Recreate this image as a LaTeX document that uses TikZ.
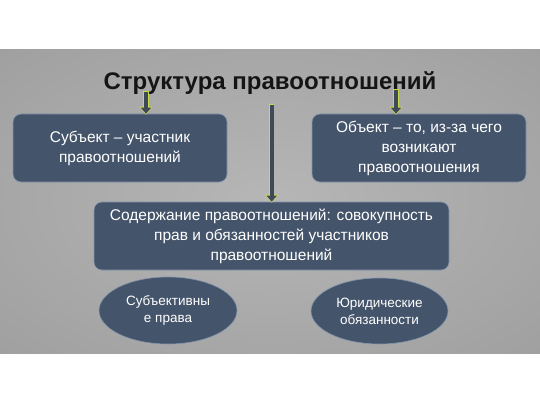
\documentclass[tikz,border=0pt]{standalone}
\usepackage{fontspec}
\setmainfont{Liberation Sans}
\usetikzlibrary{shapes.geometric,arrows.meta,positioning}

\definecolor{slate}{HTML}{44546A}
\definecolor{slateedge}{HTML}{8395AD}
\definecolor{arrdark}{HTML}{3E4B57}
\definecolor{arrlime}{HTML}{C9D94E}
\definecolor{titlecol}{HTML}{151515}
\definecolor{bglight}{HTML}{B6B6B6}
\definecolor{bgmid}{HTML}{9A9A9A}
\definecolor{bgdark}{HTML}{6A6A6A}
\pgfdeclareradialshading{bgshade}{\pgfpoint{0bp}{0bp}}{color(0bp)=(bglight); color(45bp)=(bgmid); color(72bp)=(bgdark)}

\begin{document}
\begin{tikzpicture}[x=1pt,y=1pt]
		\tikzstyle{box}=[rectangle, rounded corners=8pt, fill=slate, draw=slateedge, line width=0.6pt, text=white, align=center, font=\fontsize{15.5}{20}\selectfont, minimum height=68pt, inner sep=0pt]
		\tikzstyle{oval}=[ellipse, fill=slate, draw=slateedge, line width=0.6pt, text=white, align=center, font=\fontsize{13.5}{17}\selectfont, inner sep=0pt]
		\tikzstyle{blockarr}=[draw=arrdark, line width=4pt, -{Triangle[length=6pt,width=10pt]}, preaction={draw=arrlime, line width=5.4pt, -{Triangle[length=8pt,width=12.5pt]}, shorten >=-1pt, shorten <=-0.7pt}]
		\useasboundingbox (0,0) rectangle (540,405);
		\shade[shading=bgshade] (0,52) rectangle (540,355);
		
		\node[font=\fontsize{24}{28}\bfseries\selectfont, text=titlecol, anchor=base] (t) at (270,315) {Структура правоотношений};
		
		\node[box, minimum width=214pt] (subj) at (120,257) {Субъект – участник\\правоотношений};
		\node[box, minimum width=214pt] (obj)  at (419,257) {Объект – то, из-за чего\\возникают\\правоотношения};
		\node[box, minimum width=355pt] (cont) at (271.5,169) {Содержание правоотношений: совокупность\\прав и обязанностей участников\\правоотношений};
		
		\node[oval, minimum width=138pt, minimum height=67pt] (prav) at (168,94.5) {Субъективны\\е права};
		\node[oval, minimum width=137pt, minimum height=66pt] (obyaz) at (379.5,94) {Юридические\\обязанности};
		
		\coordinate (a1) at (146,313);
		\coordinate (a2) at (271.7,300);
		\coordinate (a3) at (396,315);
		
		\draw[blockarr] (a1) -- (a1 |- subj.north);
		\draw[blockarr] (a2) -- (a2 |- cont.north);
		\draw[blockarr] (a3) -- (a3 |- obj.north);
		
\end{tikzpicture}
\end{document}
